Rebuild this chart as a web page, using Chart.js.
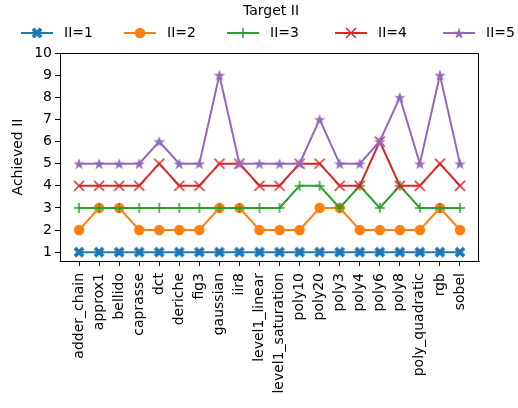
<!DOCTYPE html>
<html>
<head>
<meta charset="utf-8">
<script src="https://cdn.jsdelivr.net/npm/chart.js@4/dist/chart.umd.min.js"></script>
<style>
  html, body { margin: 0; padding: 0; background: #fff; }
</style>
</head>
<body>
<canvas id="chart" width="518" height="408"></canvas>
<script>
var benchmarks = ['adder_chain', 'approx1', 'bellido', 'caprasse', 'dct', 'deriche', 'fig3',
  'gaussian', 'iir8', 'level1_linear', 'level1_saturation', 'poly10', 'poly20', 'poly3',
  'poly4', 'poly6', 'poly8', 'poly_quadratic', 'rgb', 'sobel'];
var seriesNames = ['II=1', 'II=2', 'II=3', 'II=4', 'II=5'];
var ii1 = [1, 1, 1, 1, 1, 1, 1, 1, 1, 1, 1, 1, 1, 1, 1, 1, 1, 1, 1, 1];
var ii2 = [2, 3, 3, 2, 2, 2, 2, 3, 3, 2, 2, 2, 3, 3, 2, 2, 2, 2, 3, 2];
var ii3 = [3, 3, 3, 3, 3, 3, 3, 3, 3, 3, 3, 4, 4, 3, 4, 3, 4, 3, 3, 3];
var ii4 = [4, 4, 4, 4, 5, 4, 4, 5, 5, 4, 4, 5, 5, 4, 4, 6, 4, 4, 5, 4];
var ii5 = [5, 5, 5, 5, 6, 5, 5, 9, 5, 5, 5, 5, 7, 5, 5, 6, 8, 5, 9, 5];
var yTicks = [1, 2, 3, 4, 5, 6, 7, 8, 9, 10];

var colors = ['#1f77b4', '#ff7f0e', '#2ca02c', '#d62728', '#9467bd'];
var FONT = "'DejaVu Sans', sans-serif";

// marker images, matplotlib style
function makeMarker(kind, color) {
  var c = document.createElement('canvas');
  c.width = 14; c.height = 14;
  var g = c.getContext('2d');
  g.translate(7, 7);
  g.fillStyle = color;
  g.strokeStyle = color;
  g.lineWidth = 1.5;
  if (kind == 'Xfilled') {
    // filled plus, rotated 45deg
    var a = 5.8, t = 1.9;
    var pts = [[-t,-a],[t,-a],[t,-t],[a,-t],[a,t],[t,t],[t,a],[-t,a],[-t,t],[-a,t],[-a,-t],[-t,-t]];
    g.rotate(Math.PI / 4);
    g.beginPath();
    pts.forEach(function(p, i) { if (i == 0) g.moveTo(p[0], p[1]); else g.lineTo(p[0], p[1]); });
    g.closePath();
    g.fill();
  } else if (kind == 'circle') {
    g.beginPath();
    g.arc(0, 0, 5.2, 0, Math.PI * 2);
    g.fill();
  } else if (kind == 'plus') {
    g.beginPath();
    g.moveTo(-5, 0); g.lineTo(5, 0);
    g.moveTo(0, -5); g.lineTo(0, 5);
    g.stroke();
  } else if (kind == 'x') {
    g.beginPath();
    g.moveTo(-5, -5); g.lineTo(5, 5);
    g.moveTo(-5, 5); g.lineTo(5, -5);
    g.stroke();
  } else if (kind == 'star') {
    var ro = 6.2, ri = ro * 0.381966;
    g.beginPath();
    for (var k = 0; k < 10; k++) {
      var r = k % 2 == 0 ? ro : ri;
      var ang = -Math.PI / 2 + k * Math.PI / 5;
      var x = r * Math.cos(ang), y = r * Math.sin(ang) + 0.6;
      if (k == 0) g.moveTo(x, y); else g.lineTo(x, y);
    }
    g.closePath();
    g.fill();
  }
  return c;
}

var markerKinds = ['Xfilled', 'circle', 'plus', 'x', 'star'];
var markers = markerKinds.map(function(k, i) { return makeMarker(k, colors[i]); });
var allSeries = [ii1, ii2, ii3, ii4, ii5];

var datasets = allSeries.map(function(vals, i) {
  return {
    label: seriesNames[i],
    data: vals.map(function(v, j) { return { x: j, y: v }; }),
    borderColor: colors[i],
    backgroundColor: colors[i],
    borderWidth: 2,
    pointStyle: markers[i],
    pointRadius: 6,
    pointHoverRadius: 6,
    tension: 0,
    fill: false,
    clip: false,
    order: 4 - i
  };
});

var legendPlugin = {
  id: 'mplLegend',
  afterDraw: function(chart) {
    var ctx = chart.ctx;
    var area = chart.chartArea;
    ctx.save();
    // axes frame
    ctx.strokeStyle = '#000';
    ctx.lineWidth = 1;
    ctx.strokeRect(area.left + 0.5, area.top + 0.5, area.right - area.left - 1, area.bottom - area.top);
    // legend title
    ctx.fillStyle = '#000';
    ctx.font = '14px ' + FONT;
    ctx.textAlign = 'center';
    ctx.textBaseline = 'middle';
    ctx.fillText('Target II', 271, 11);
    var lineX = [21, 124, 227, 335, 443];
    var y = 33;
    ctx.textAlign = 'left';
    seriesNames.forEach(function(name, i) {
      var x0 = lineX[i];
      ctx.strokeStyle = colors[i];
      ctx.lineWidth = 2;
      ctx.beginPath();
      ctx.moveTo(x0, y);
      ctx.lineTo(x0 + 32, y);
      ctx.stroke();
      ctx.drawImage(markers[i], x0 + 16 - 7, y - 7);
      ctx.fillStyle = '#000';
      ctx.fillText(name, x0 + 43, y);
    });
    ctx.restore();
  }
};

var ctx = document.getElementById('chart').getContext('2d');
var chartObj = new Chart(ctx, {
  type: 'line',
  data: { datasets: datasets },
  options: {
    responsive: false,
    animation: false,
    layout: { padding: { top: 53, right: 39, left: 0, bottom: 0 } },
    plugins: {
      legend: { display: false },
      tooltip: { enabled: false }
    },
    scales: {
      x: {
        type: 'linear',
        min: -0.95,
        max: benchmarks.length - 1 + 0.95,
        afterBuildTicks: function(scale) {
          scale.ticks = benchmarks.map(function(b, i) { return { value: i }; });
        },
        afterFit: function(scale) { scale.height = 147; },
        grid: { drawOnChartArea: false, drawTicks: true, tickLength: 5, color: '#000', lineWidth: 1 },
        border: { display: true, color: '#000', width: 1 },
        ticks: {
          autoSkip: false,
          minRotation: 90,
          maxRotation: 90,
          padding: 7,
          color: '#000',
          font: { family: FONT, size: 14 },
          callback: function(v) { return benchmarks[v]; }
        }
      },
      y: {
        min: 0.6,
        max: 10,
        afterBuildTicks: function(scale) {
          scale.ticks = yTicks.map(function(v) { return { value: v }; });
        },
        afterFit: function(scale) { scale.width = 60; },
        grid: { drawOnChartArea: false, drawTicks: true, tickLength: 5, color: '#000', lineWidth: 1 },
        border: { display: true, color: '#000', width: 1 },
        title: {
          display: true,
          text: 'Achieved II',
          color: '#000',
          font: { family: FONT, size: 14 },
          padding: { top: 10, bottom: 0 }
        },
        ticks: {
          padding: 3,
          color: '#000',
          font: { family: FONT, size: 14 }
        }
      }
    }
  },
  plugins: [legendPlugin]
});
</script>
</body>
</html>
